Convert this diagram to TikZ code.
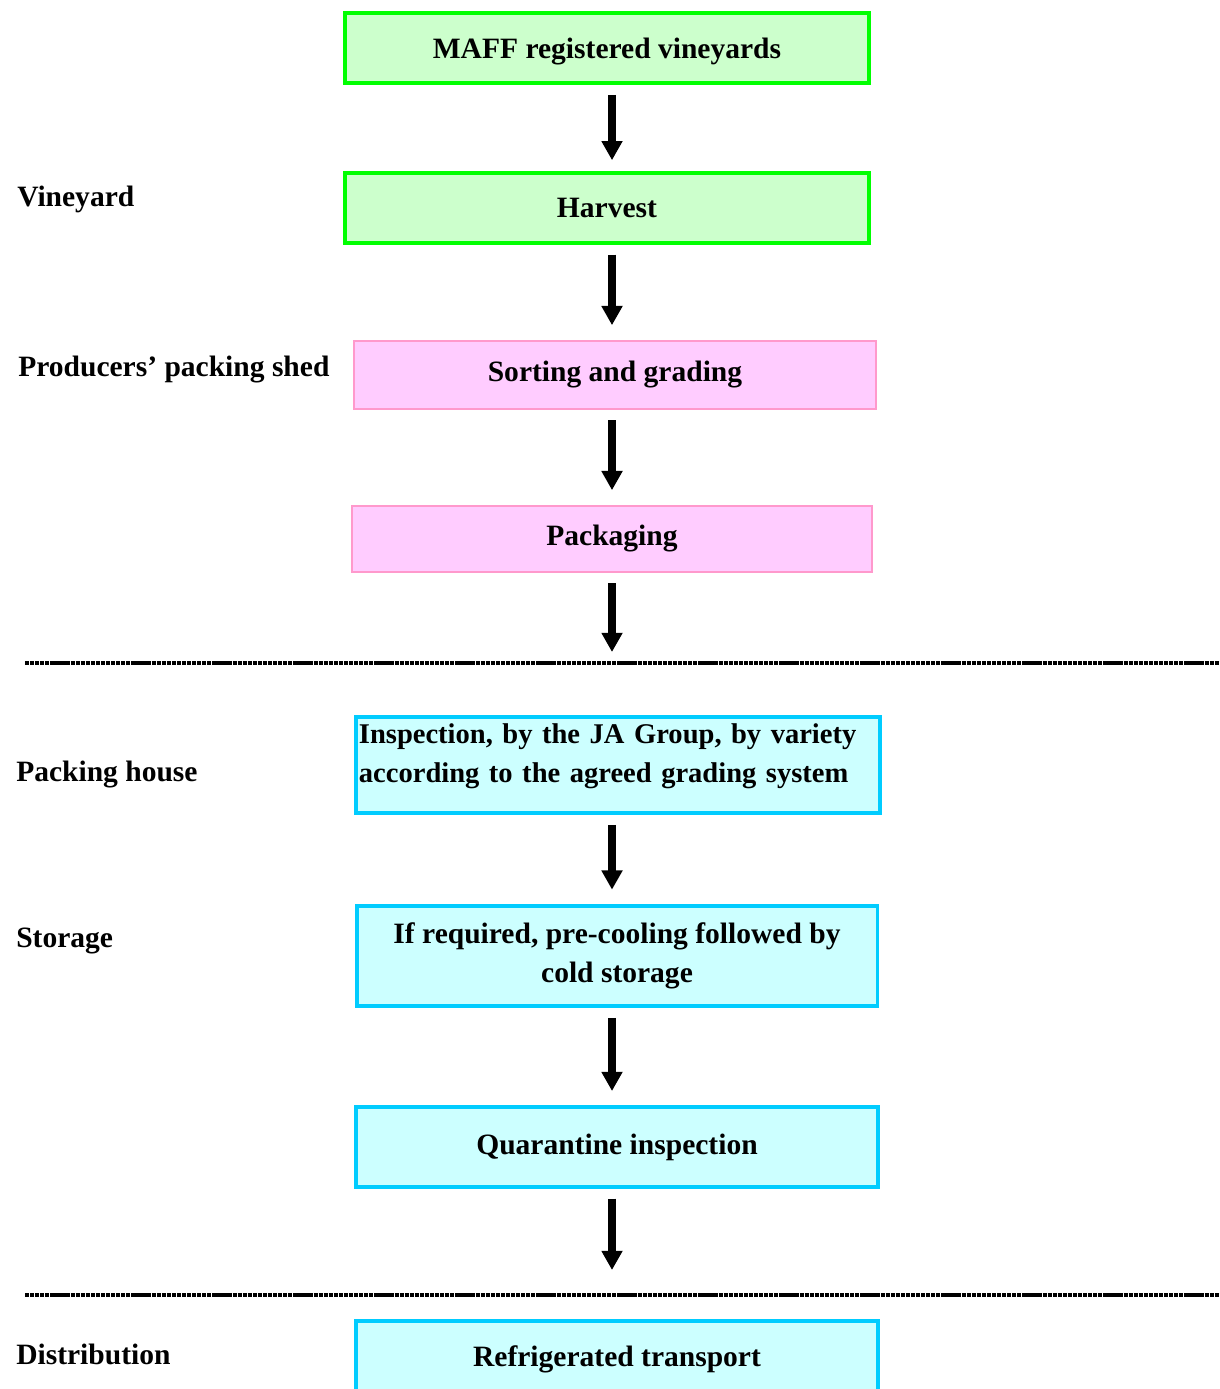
\documentclass[tikz,border=0pt]{standalone}
\usepackage{fontspec}
\setmainfont{Liberation Serif}
\usetikzlibrary{arrows.meta}
\definecolor{vgreen}{HTML}{00FF00}
\definecolor{vgreenfill}{HTML}{CCFFCC}
\definecolor{shedpink}{HTML}{FF99CC}
\definecolor{shedfill}{HTML}{FFCCFF}
\definecolor{housecyan}{HTML}{00CCFF}
\definecolor{housefill}{HTML}{CCFFFF}
\begin{document}
\begin{tikzpicture}[x=0.025cm,y=-0.025cm]
    \tikzset{
        stepbox/.style={inner sep=2pt, font=\fontsize{21}{27.5}\selectfont\bfseries},
        vinebox/.style={stepbox, draw=vgreen, fill=vgreenfill, line width=2.8pt},
        shedbox/.style={stepbox, draw=shedpink, fill=shedfill, line width=2pt},
        housebox/.style={stepbox, draw=housecyan, fill=housefill, line width=2.8pt},
        stage/.style={anchor=west, inner sep=0pt, font=\fontsize{21}{25}\selectfont\bfseries},
        flow/.style={line width=0.2cm, -{Triangle[width=0.5cm,length=0.48cm]},
                     shorten <=0.25cm, shorten >=0.36cm},
        sep/.style={line width=2.2pt, dash pattern=on 3pt off 0.6pt}
    }
    \useasboundingbox (0,0) rectangle (1220,1389);
    \coordinate (ax) at (612,0);

    % steps
    \node[vinebox, minimum width=13.1cm, minimum height=1.75cm, text depth=0pt] (maff) at (607,48) {MAFF registered vineyards};
    \node[vinebox, minimum width=13.1cm, minimum height=1.73cm] (harvest) at (607,208) {Harvest};
    \node[shedbox, minimum width=13.05cm, minimum height=1.7cm] (sort) at (615,375) {Sorting and grading};
    \node[shedbox, minimum width=13cm, minimum height=1.65cm] (pack) at (612,539) {Packaging};
    \node[housebox, minimum width=13.08cm, minimum height=2.4cm, text width=12.95cm, align=left,
          text depth=1.55cm, font=\fontsize{20.3}{27.5}\selectfont\bfseries] (inspect) at (618,765)
        {Inspection, by the JA Group, by variety\\according to the agreed grading system};
    \node[housebox, minimum width=13.02cm, minimum height=2.5cm, align=center] (cool) at (617,956)
        {If required, pre-cooling followed by\\cold storage};
    \node[housebox, minimum width=13.05cm, minimum height=1.98cm] (quar) at (617,1147) {Quarantine inspection};
    \node[housebox, minimum width=13.05cm, minimum height=1.9cm] (truck) at (617,1359) {Refrigerated transport};

    % stages
    \node[stage] (vy) at (17,199) {Vineyard};
    \node[stage] (ps) at (18,370) {Producers’ packing shed};
    \node[stage] (ph) at (16,775) {Packing house};
    \node[stage] (st) at (16,941) {Storage};
    \node[stage] (di) at (16,1354) {Distribution};

    % arrows
    \coordinate (end1) at (612,652);
    \coordinate (end2) at (612,1270);
    \draw[flow, shorten >=0.28cm] (maff.south -| ax) -- (harvest.north -| ax);
    \draw[flow] (harvest.south -| ax) -- (sort.north -| ax);
    \draw[flow] (sort.south -| ax) -- (pack.north -| ax);
    \draw[flow, shorten >=0pt] (pack.south -| ax) -- (end1);
    \draw[flow] (inspect.south -| ax) -- (cool.north -| ax);
    \draw[flow] (cool.south -| ax) -- (quar.north -| ax);
    \draw[flow, shorten >=0pt] (quar.south -| ax) -- (end2);

    % dividers
    \draw[sep] (25,663) -- (1220,663);
    \draw[sep] (25,1295) -- (1220,1295);
\end{tikzpicture}
\end{document}
